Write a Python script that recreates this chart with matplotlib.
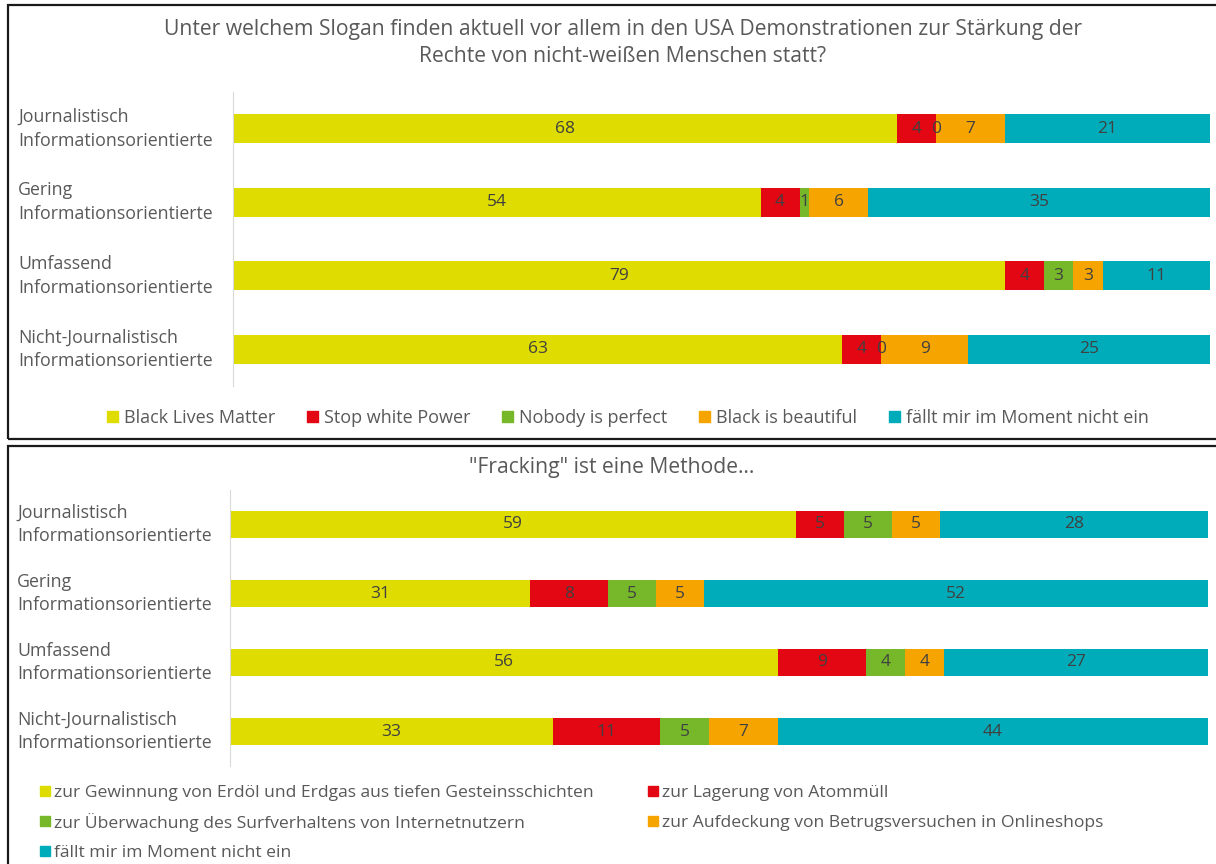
import numpy as np
import matplotlib.pyplot as plt
from matplotlib.patches import Patch, Rectangle
import matplotlib.transforms as mtransforms

plt.rcParams['font.family'] = ['Open Sans', 'DejaVu Sans']

# Gruppen (von oben nach unten)
gruppen = ["Journalistisch\nInformationsorientierte",
           "Gering\nInformationsorientierte",
           "Umfassend\nInformationsorientierte",
           "Nicht-Journalistisch\nInformationsorientierte"]

# Chart 1: Slogan
titel1 = ("Unter welchem Slogan finden aktuell vor allem in den USA Demonstrationen zur Stärkung der\n"
          "Rechte von nicht-weißen Menschen statt?")
labels1 = ["Black Lives Matter", "Stop white Power", "Nobody is perfect",
           "Black is beautiful", "fällt mir im Moment nicht ein"]
blm = [68, 54, 79, 63]
stop_white = [4, 4, 4, 4]
nobody = [0, 1, 3, 0]
beautiful = [7, 6, 3, 9]
faellt1 = [21, 35, 11, 25]

# Chart 2: Fracking
titel2 = '"Fracking" ist eine Methode…'
labels2 = ["zur Gewinnung von Erdöl und Erdgas aus tiefen Gesteinsschichten",
           "zur Lagerung von Atommüll",
           "zur Überwachung des Surfverhaltens von Internetnutzern",
           "zur Aufdeckung von Betrugsversuchen in Onlineshops",
           "fällt mir im Moment nicht ein"]
erdoel = [59, 31, 56, 33]
atommuell = [5, 8, 9, 11]
surf = [5, 5, 4, 5]
betrug = [5, 5, 4, 7]
faellt2 = [28, 52, 27, 44]

farben = ["#DEDC00", "#E30613", "#76B82A", "#F6A500", "#00ACBA"]
grau = "#595959"
W, H = 1216, 864


def zeichne(ax, serien, label_x):
    werte = np.array(serien, dtype=float)  # 5 x 4
    anteile = werte / werte.sum(axis=0) * 100  # 100%-gestapelt
    y = np.arange(len(gruppen))
    links = np.zeros(len(gruppen))
    for i in range(werte.shape[0]):
        ax.barh(y, anteile[i], left=links, height=0.4, color=farben[i])
        for j in range(len(gruppen)):
            ax.text(links[j] + anteile[i][j] / 2, y[j], f"{werte[i][j]:.0f}",
                    ha='center', va='center', fontsize=12.5, color="#404040")
        links += anteile[i]
    ax.set_xlim(0, 100)
    ax.set_ylim(len(gruppen) - 0.5, -0.5)
    ax.set_xticks([])
    ax.set_yticks([])
    for s in ['top', 'right', 'bottom']:
        ax.spines[s].set_visible(False)
    ax.spines['left'].set_color("#D9D9D9")
    trans = mtransforms.blended_transform_factory(ax.figure.transFigure, ax.transData)
    for j, g in enumerate(gruppen):
        ax.text(label_x / W, y[j], g, transform=trans, ha='left', va='center',
                fontsize=12.8, color=grau, linespacing=1.4)


fig = plt.figure(figsize=(W / 100, H / 100), dpi=100)

# Rahmen der beiden Diagramme
fig.patches.append(Rectangle((8 / W, 1 - 439 / H), 1.1, (439 - 5) / H, transform=fig.transFigure,
                             fill=False, edgecolor="#1a1a1a", linewidth=1.6, clip_on=False))
fig.patches.append(Rectangle((8 / W, -0.1), 1.1, 0.1 + 1 - 446 / H, transform=fig.transFigure,
                             fill=False, edgecolor="#1a1a1a", linewidth=1.6, clip_on=False))

ax1 = fig.add_axes([233 / W, 1 - 386 / H, 977 / W, 294 / H])
zeichne(ax1, [blm, stop_white, nobody, beautiful, faellt1], 18)
fig.text(623 / W, 1 - 43 / H, titel1, ha='center', va='center', fontsize=15.2,
         color=grau, linespacing=1.4)

ax2 = fig.add_axes([230 / W, 1 - 766 / H, 978 / W, 276 / H])
zeichne(ax2, [erdoel, atommuell, surf, betrug, faellt2], 17)
fig.text(612 / W, 1 - 467 / H, titel2, ha='center', va='center', fontsize=15.2, color=grau)

# Legende oben
h1 = [Patch(color=c) for c in farben]
fig.legend(h1, labels1, loc='center', bbox_to_anchor=(628 / W, 1 - 418 / H), ncol=5,
           frameon=False, fontsize=13, handlelength=0.6, handleheight=0.6,
           handletextpad=0.35, columnspacing=1.75, labelcolor=grau)

# Legende unten: zwei Spalten, zeilenweise gelesen
spalte_x = [40, 40, 40, 648, 648]
zeile_y = [791, 821, 851, 791, 821]
reihenfolge = [0, 2, 4, 1, 3]
for k, i in enumerate(reihenfolge):
    x0, y0 = spalte_x[k], zeile_y[k]
    fig.patches.append(Rectangle((x0 / W, 1 - (y0 + 5) / H), 10 / W, 10 / H,
                                 transform=fig.transFigure, color=farben[i]))
    fig.text((x0 + 14) / W, 1 - y0 / H, labels2[i], ha='left', va='center_baseline',
             fontsize=12.6, color=grau)

fig.savefig("out.png", dpi=100)
